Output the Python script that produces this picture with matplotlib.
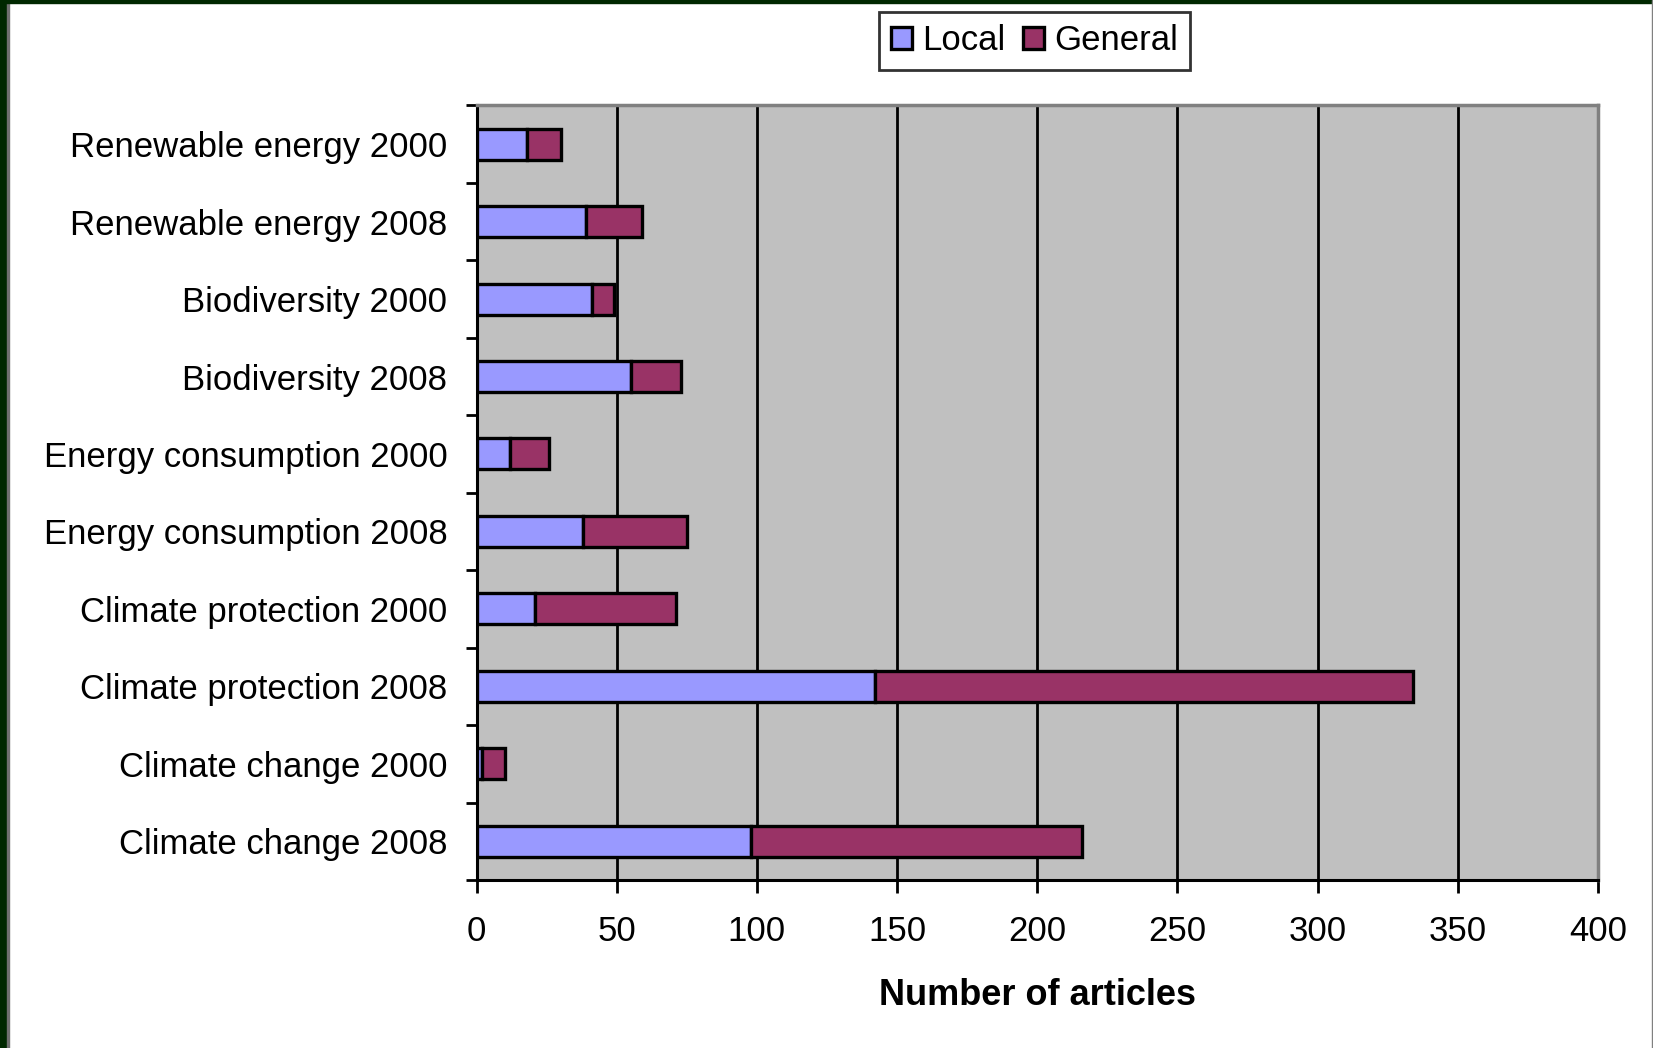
import numpy as np
import matplotlib
matplotlib.use('Agg')
from matplotlib import pyplot as plt
from matplotlib.patches import Rectangle

plt.rcParams['font.family'] = ['Liberation Sans', 'DejaVu Sans']

# categories, top to bottom as in the picture
categories = ['Renewable energy 2000', 'Renewable energy 2008',
              'Biodiversity 2000', 'Biodiversity 2008',
              'Energy consumption 2000', 'Energy consumption 2008',
              'Climate protection 2000', 'Climate protection 2008',
              'Climate change 2000', 'Climate change 2008']
local = [18, 39, 41, 55, 12, 38, 21, 142, 2, 98]
general = [12, 20, 8, 18, 14, 37, 50, 192, 8, 118]
xticks = [0, 50, 100, 150, 200, 250, 300, 350, 400]

local_color = '#9999FF'
general_color = '#993366'

fig = plt.figure(figsize=(16.53, 10.48), dpi=100)
ax = fig.add_axes([0.2883, 0.1603, 0.9667 - 0.2883, 0.8994 - 0.1603])
ax.set_facecolor('#C0C0C0')

y = np.arange(len(categories))
ax.barh(y, local, height=0.4, color=local_color, edgecolor='black', linewidth=2.4,
        label='Local', zorder=3)
ax.barh(y, general, left=local, height=0.4, color=general_color, edgecolor='black',
        linewidth=2.4, label='General', zorder=3)

ax.set_ylim(len(categories) - 0.5, -0.5)
ax.set_xlim(0, 400)
ax.set_xticks(xticks)
ax.set_xticklabels([str(v) for v in xticks], fontsize=25)
ax.set_yticks(y)
ax.set_yticklabels(categories, fontsize=25)
ax.tick_params(axis='y', which='major', length=0, pad=21)
ax.set_yticks(np.arange(len(categories) + 1) - 0.5, minor=True)
ax.tick_params(axis='y', which='minor', length=8, width=2, direction='out')
ax.tick_params(axis='x', which='major', length=9, width=2, direction='out', pad=16)

ax.grid(axis='x', color='black', linewidth=2, zorder=1)
ax.set_axisbelow(True)

for side in ['left', 'bottom']:
    ax.spines[side].set_color('black')
    ax.spines[side].set_linewidth(2.2)
for side in ['top', 'right']:
    ax.spines[side].set_color('#808080')
    ax.spines[side].set_linewidth(2.5)

ax.set_xlabel('Number of articles', fontsize=26, fontweight='bold', labelpad=22)

leg = fig.legend(loc='center', bbox_to_anchor=(0.6258, 0.961), ncol=2, fontsize=25,
                 frameon=True, fancybox=False, edgecolor='black', handlelength=0.6,
                 handleheight=0.6, handletextpad=0.3, columnspacing=0.5,
                 borderpad=0.35, borderaxespad=0)
leg.get_frame().set_linewidth(2)

# dark frame round the picture
fig.patches.append(Rectangle((0, 0), 7 / 1653, 1, transform=fig.transFigure,
                             color='#002800', zorder=10))
fig.patches.append(Rectangle((7 / 1653, 0), 1.5 / 1653, 1, transform=fig.transFigure,
                             color='#707070', zorder=10))
fig.patches.append(Rectangle((0, 1 - 3 / 1048), 1, 3 / 1048, transform=fig.transFigure,
                             color='#002800', zorder=10))
fig.patches.append(Rectangle((1 - 1.5 / 1653, 0), 1.5 / 1653, 1, transform=fig.transFigure,
                             color='#808080', zorder=10))

fig.savefig('out.png', dpi=100)
